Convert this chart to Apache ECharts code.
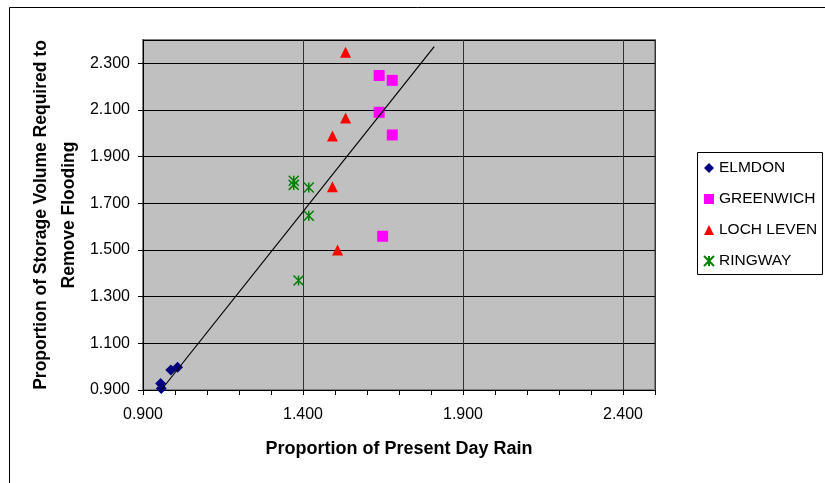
<!DOCTYPE html>
<html>
<head>
<meta charset="utf-8">
<script src="https://cdn.jsdelivr.net/npm/echarts@6/dist/echarts.min.js"></script>
<style>
  html, body { margin: 0; padding: 0; background: #fff; }
  #chart { width: 825px; height: 483px; }
</style>
</head>
<body>
<div id="chart"></div>
<script>
// ---- data ----
const seriesNames = ['ELMDON', 'GREENWICH', 'LOCH LEVEN', 'RINGWAY'];
const elmdonX    = [0.955, 0.957, 0.987, 1.008];
const elmdonY    = [0.928, 0.906, 0.986, 0.998];
const greenwichX = [1.638, 1.679, 1.638, 1.679, 1.649];
const greenwichY = [2.248, 2.227, 2.090, 1.993, 1.559];
const lochLevenX = [1.533, 1.533, 1.492, 1.492, 1.508];
const lochLevenY = [2.347, 2.066, 1.989, 1.771, 1.500];
const ringwayX   = [1.371, 1.371, 1.418, 1.418, 1.386];
const ringwayY   = [1.797, 1.779, 1.768, 1.647, 1.369];
const trendX     = [0.957, 1.810];
const trendY     = [0.900, 2.372];
const xTitle = 'Proportion of Present Day Rain';
const yTitle = 'Proportion of Storage Volume Required to\nRemove Flooding';

const pairs = (xs, ys) => xs.map((x, i) => [x, ys[i]]);
const FONT = '"Liberation Sans", Arial, sans-serif';
const fmt = v => v.toFixed(3);

const chart = echarts.init(document.getElementById('chart'), null, { renderer: 'canvas' });
chart.setOption({
  animation: false,
  backgroundColor: '#ffffff',
  textStyle: { fontFamily: FONT },
  graphic: [
    { type: 'rect', z: -10, shape: { x: 9.5, y: 7.5, width: 900, height: 600 },
      style: { fill: 'none', stroke: '#000', lineWidth: 1 } },
    { type: 'rect', z: 10, shape: { x: 697.5, y: 152.5, width: 125, height: 122 },
      style: { fill: '#fff', stroke: '#000', lineWidth: 1 } }
  ],
  grid: {
    left: 143, right: 170, top: 40, bottom: 93,
    show: true, backgroundColor: '#C0C0C0', borderColor: '#808080', borderWidth: 2
  },
  legend: {
    z: 20,
    data: seriesNames,
    orient: 'vertical', left: 703, top: 160, padding: 0,
    itemGap: 15, itemWidth: 10, itemHeight: 10,
    textStyle: { fontSize: 15.5, color: '#000', fontFamily: FONT }
  },
  xAxis: [{
    type: 'value', min: 0.9, max: 2.5, interval: 0.5, position: 'bottom',
    name: xTitle, nameLocation: 'middle', nameGap: 50,
    nameTextStyle: { fontSize: 18, fontWeight: 'bold', color: '#000', fontFamily: FONT },
    axisLine: { show: true, lineStyle: { color: '#000', width: 1 } },
    axisTick: { show: true, length: 5, lineStyle: { color: '#000' } },
    axisLabel: { showMaxLabel: false, margin: 17, fontSize: 16, color: '#000', formatter: fmt },
    splitLine: { show: true, lineStyle: { color: '#333', width: 1 } }
  }, {
    type: 'value', min: 0.9, max: 2.5, interval: 0.1, position: 'bottom',
    axisLine: { show: false },
    axisTick: { show: true, length: 5, lineStyle: { color: '#000' } },
    axisLabel: { show: false },
    splitLine: { show: false }
  }],
  yAxis: {
    type: 'value', min: 0.9, max: 2.4, interval: 0.2,
    name: yTitle, nameLocation: 'middle', nameGap: 60, nameMoveOverlap: false,
    nameTextStyle: { fontSize: 17.5, fontWeight: 'bold', color: '#000', lineHeight: 28, fontFamily: FONT, align: 'center' },
    axisLine: { show: true, lineStyle: { color: '#000', width: 1 } },
    axisTick: { show: true, length: 5, lineStyle: { color: '#000' } },
    axisLabel: { showMaxLabel: false, margin: 13, fontSize: 16, color: '#000', formatter: fmt },
    splitLine: { show: true, lineStyle: { color: '#000', width: 1 } }
  },
  series: [
    { name: 'ELMDON', type: 'scatter', symbol: 'diamond', symbolSize: 11,
      itemStyle: { color: '#000080', opacity: 1 }, data: pairs(elmdonX, elmdonY), z: 3 },
    { name: 'GREENWICH', type: 'scatter', symbol: 'rect', symbolSize: 11,
      itemStyle: { color: '#FF00FF', opacity: 1 }, data: pairs(greenwichX, greenwichY), z: 3 },
    { name: 'LOCH LEVEN', type: 'scatter', symbol: 'triangle', symbolSize: 11,
      itemStyle: { color: '#FF0000', opacity: 1 }, data: pairs(lochLevenX, lochLevenY), z: 3 },
    { name: 'RINGWAY', type: 'scatter', symbol: 'path://M0,0L10,10M10,0L0,10M5,0L5,10', symbolSize: 10,
      itemStyle: { color: 'rgba(0,0,0,0)', borderColor: '#008000', borderWidth: 1.5, opacity: 1 },
      data: pairs(ringwayX, ringwayY), z: 3 },
    { name: 'trend', type: 'line', symbol: 'none', silent: true,
      lineStyle: { color: '#000', width: 1.2 }, data: pairs(trendX, trendY), z: 4 }
  ]
});
</script>
</body>
</html>
